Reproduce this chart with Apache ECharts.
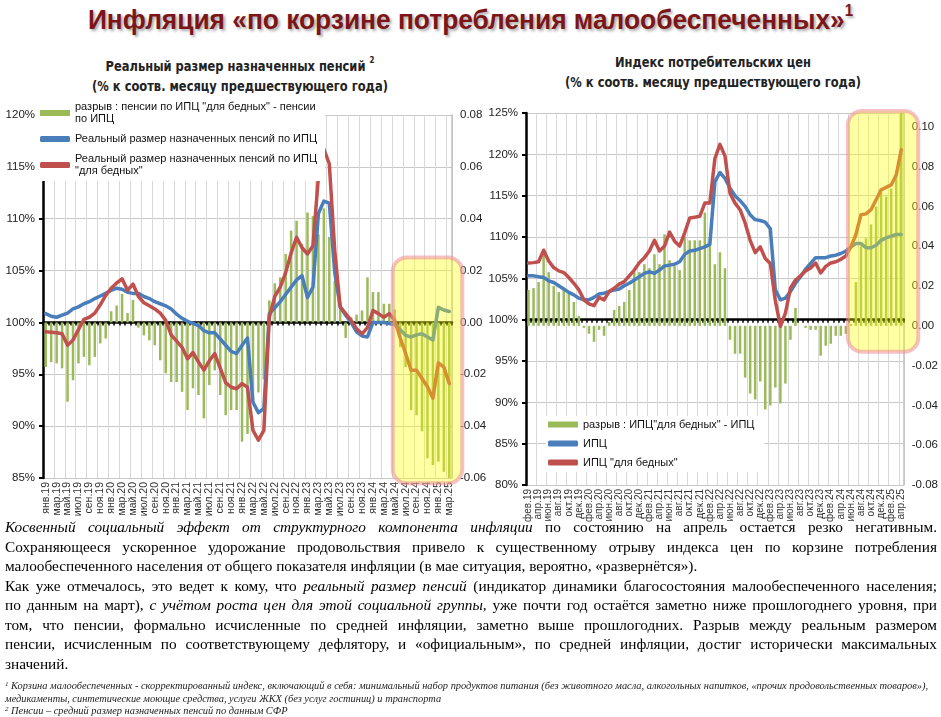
<!DOCTYPE html>
<html>
<head>
<meta charset="utf-8">
<script src="https://cdn.jsdelivr.net/npm/echarts@6/dist/echarts.min.js"></script>
<style>
body {
  margin: 0;
  width: 941px;
  height: 717px;
  background: #fff;
  position: relative;
  overflow: hidden;
  font-family: "Liberation Sans", Arial, sans-serif;
}
.title {
  position: absolute;
  left: 0;
  top: 4px;
  width: 941px;
  text-align: center;
  font-weight: bold;
  font-size: 28px;
  color: #7c1518;
  text-shadow: 2px 2px 3px rgba(0, 0, 0, 0.35);
  transform: scaleX(0.94);
}
.title sup { font-size: 16px; position: relative; top: -3px; }
.sub {
  position: absolute;
  top: 52px;
  width: 480px;
  text-align: center;
  font-family: "Liberation Sans Narrow", "DejaVu Sans Condensed", sans-serif;
  font-weight: bold;
  font-size: 14.5px;
  line-height: 20px;
  color: #222;
  transform: scaleX(0.88);
}
.sub sup { font-size: 9px; position: relative; top: -2px; }
#left { position: absolute; left: 0; top: 95px; width: 500px; height: 430px; }
#right { position: absolute; left: 470px; top: 95px; width: 471px; height: 430px; }
.txt {
  position: absolute;
  left: 5px;
  top: 517px;
  width: 932px;
  font-family: "Liberation Serif", "Times New Roman", serif;
  font-size: 15.3px;
  line-height: 19.5px;
  color: #000;
}
.txt div { text-align: justify; text-align-last: justify; white-space: nowrap; }
.txt div.l { text-align-last: left; }
.fn {
  position: absolute;
  left: 5px;
  top: 680px;
  width: 940px;
  font-family: "Liberation Serif", "Times New Roman", serif;
  font-style: italic;
  font-size: 10.4px;
  line-height: 12.5px;
  color: #222;
  white-space: nowrap;
}
.fn sup { font-size: 7px; line-height: 0; vertical-align: 3px; }
</style>
</head>
<body>
<div class="title">Инфляция «по корзине потребления малообеспеченных»<sup>1</sup></div>
<div class="sub" style="left:0">Реальный размер назначенных пенсий <sup>2</sup><br>(% к соотв. месяцу предшествующего года)</div>
<div class="sub" style="left:473px">Индекс потребительских цен<br>(% к соотв. месяцу предшествующего года)</div>
<div id="left"></div>
<div id="right"></div>
<div class="txt">
  <div><i>Косвенный социальный эффект от структурного компонента инфляции</i> по состоянию на апрель остается резко негативным.</div>
  <div>Сохраняющееся ускоренное удорожание продовольствия привело к существенному отрыву индекса цен по корзине потребления</div>
  <div class="l">малообеспеченного населения от общего показателя инфляции (в мае ситуация, вероятно, «развернётся»).</div>
  <div>Как уже отмечалось, это ведет к кому, что <i>реальный размер пенсий</i> (индикатор динамики благосостояния малообеспеченного населения;</div>
  <div>по данным на март), <i>с учётом роста цен для этой социальной группы,</i> уже почти год остаётся заметно ниже прошлогоднего уровня, при</div>
  <div>том, что пенсии, формально исчисленные по средней инфляции, заметно выше прошлогодних. Разрыв между реальным размером</div>
  <div>пенсии, исчисленным по соответствующему дефлятору, и «официальным», по средней инфляции, достиг исторически максимальных</div>
  <div class="l">значений.</div>
</div>
<div class="fn">
  <div><sup>1</sup> Корзина малообеспеченных - скорректированный индекс, включающий в себя: минимальный набор продуктов питания (без животного масла, алкогольных напитков, «прочих продовольственных товаров»),</div>
  <div>медикаменты, синтетические моющие средства, услуги ЖКХ (без услуг гостиниц) и транспорта</div>
  <div><sup>2</sup> Пенсии – средний размер назначенных пенсий по данным СФР</div>
</div>
<script>
// ---- левый график: пенсии ----
var leftMonths = ("янв.19,фев.19,мар.19,апр.19,май.19,июн.19,июл.19,авг.19,сен.19,окт.19,ноя.19,дек.19," +
  "янв.20,фев.20,мар.20,апр.20,май.20,июн.20,июл.20,авг.20,сен.20,окт.20,ноя.20,дек.20," +
  "янв.21,фев.21,мар.21,апр.21,май.21,июн.21,июл.21,авг.21,сен.21,окт.21,ноя.21,дек.21," +
  "янв.22,фев.22,мар.22,апр.22,май.22,июн.22,июл.22,авг.22,сен.22,окт.22,ноя.22,дек.22," +
  "янв.23,фев.23,мар.23,апр.23,май.23,июн.23,июл.23,авг.23,сен.23,окт.23,ноя.23,дек.23," +
  "янв.24,фев.24,мар.24,апр.24,май.24,июн.24,июл.24,авг.24,сен.24,окт.24,ноя.24,дек.24," +
  "янв.25,фев.25,мар.25").split(",");

// разрыв: пенсии по ИПЦ "для бедных" - пенсии по ИПЦ
var leftGap = [
  -0.0172, -0.0153, -0.0158, -0.0177, -0.0306, -0.0223, -0.0158, -0.0133, -0.0165, -0.0133, -0.0081, -0.0062,
  0.0043, 0.0065, 0.011, 0.0036, 0.0087, -0.002, -0.005, -0.0069, -0.0088, -0.0146, -0.0196, -0.023,
  -0.023, -0.0268, -0.0338, -0.0254, -0.028, -0.037, -0.0242, -0.0185, -0.028, -0.0358, -0.0338, -0.0338,
  -0.046, -0.043, -0.030, -0.027, -0.022, 0.0085, 0.0151, 0.0174, 0.0264, 0.0354, 0.0392, 0.0303,
  0.0424, 0.041, 0.034, 0.044, 0.033, 0.016, 0.006, -0.006, 0.002, 0.003, 0.0046, 0.0174,
  0.0117, 0.0117, 0.0072, 0.0072, 0.005, -0.0095, -0.0172, -0.0338, -0.0358, -0.042, -0.0524, -0.055,
  -0.0537, -0.0576, -0.060
];
// реальный размер назначенных пенсий по ИПЦ, %
var leftPensCpi = [
  100.85, 100.6, 100.5, 100.7, 100.9, 101.3, 101.5, 101.8, 102.0, 102.3, 102.55, 102.8,
  103.1, 103.3, 103.2, 102.9, 102.8, 102.8, 102.5, 102.3, 102.0, 101.8, 101.6, 101.3,
  100.8, 100.4, 100.1, 99.9, 99.7, 99.2, 99.0, 99.0, 98.4, 97.8, 97.2, 97.0,
  97.8, 98.5, 92.3, 91.3, 91.7, 100.85, 101.4, 102.0, 102.7, 103.4, 104.1, 104.5,
  102.4, 103.4, 110.5, 111.7, 111.5, 104.8, 101.5, 100.7, 100.0, 99.1, 98.7, 98.6,
  100.0, 100.0, 100.0, 99.9, 99.8, 99.3, 98.75, 98.6, 98.8, 98.9, 98.6, 98.3,
  101.45, 101.2, 101.05
];
// реальный размер назначенных пенсий по ИПЦ "для бедных", %
var leftPensPoor = [
  99.1, 99.05, 99.0, 98.9, 97.8, 98.3, 99.3, 100.3, 100.5, 100.9, 101.7, 102.6,
  103.3, 103.8, 104.2, 103.1, 103.7, 102.5, 101.9, 101.6, 101.3, 100.9, 100.2, 98.8,
  98.2, 97.6, 96.5, 97.1, 96.2, 95.4, 96.3, 97.0, 95.6, 94.2, 93.75, 93.6,
  94.1, 93.75, 89.6, 88.65, 89.6, 100.5, 102.5, 103.4, 104.8, 106.7, 108.2, 107.2,
  106.6, 107.4, 114.0, 116.7, 115.3, 106.9, 101.5, 100.85, 100.2, 99.4, 98.9, 99.5,
  101.15, 100.85, 100.5, 100.85, 100.2, 98.5, 97.0, 95.4, 95.4, 94.6, 93.8, 92.7,
  96.1, 95.7, 94.1
];

// ---- правый график: ИПЦ ----
var rightMonths = ("фев.19,мар.19,апр.19,май.19,июн.19,июл.19,авг.19,сен.19,окт.19,ноя.19,дек.19," +
  "янв.20,фев.20,мар.20,апр.20,май.20,июн.20,июл.20,авг.20,сен.20,окт.20,ноя.20,дек.20," +
  "янв.21,фев.21,мар.21,апр.21,май.21,июн.21,июл.21,авг.21,сен.21,окт.21,ноя.21,дек.21," +
  "янв.22,фев.22,мар.22,апр.22,май.22,июн.22,июл.22,авг.22,сен.22,окт.22,ноя.22,дек.22," +
  "янв.23,фев.23,мар.23,апр.23,май.23,июн.23,июл.23,авг.23,сен.23,окт.23,ноя.23,дек.23," +
  "янв.24,фев.24,мар.24,апр.24,май.24,июн.24,июл.24,авг.24,сен.24,окт.24,ноя.24,дек.24," +
  "янв.25,фев.25,мар.25,апр.25").split(",");

// разрыв: ИПЦ "для бедных" - ИПЦ
var rightGap = [
  0.018, 0.019, 0.022, 0.036, 0.027, 0.020, 0.017, 0.018, 0.017, 0.012, 0.005,
  -0.001, -0.004, -0.008, -0.002, -0.005, 0.002, 0.008, 0.010, 0.012, 0.018, 0.027, 0.027,
  0.031, 0.029, 0.036, 0.031, 0.046, 0.033, 0.030, 0.028, 0.045, 0.043, 0.043, 0.043,
  0.057, 0.044, 0.031, 0.037, 0.029, -0.007, -0.014, -0.014, -0.026, -0.034, -0.037, -0.028,
  -0.042, -0.040, -0.031, -0.039, -0.029, -0.007, 0.009, 0.000, -0.001, -0.002, -0.002, -0.015,
  -0.010, -0.009, -0.005, -0.005, -0.004, 0.001, 0.022, 0.040, 0.044, 0.051, 0.060, 0.067,
  0.065, 0.069, 0.078, 0.107
];
// ИПЦ, % к соотв. месяцу предыдущего года
var rightCpi = [
  105.3, 105.3, 105.2, 105.1, 104.7, 104.5, 104.1, 103.7, 103.3, 103.0, 102.6,
  102.4, 102.4, 102.7, 103.1, 103.2, 103.4, 103.6, 103.7, 104.1, 104.4, 104.8, 105.2,
  105.6, 105.8, 105.6, 106.0, 106.5, 106.6, 106.7, 107.0, 107.9, 108.3, 108.4, 108.6,
  108.8, 109.1, 116.7, 117.8, 117.1, 115.9, 115.0, 114.4, 113.7, 112.7, 112.1, 112.0,
  111.8, 111.0, 103.6, 102.4, 102.6, 103.4, 104.4, 105.2, 106.1, 106.8, 107.5, 107.5,
  107.5, 107.7, 107.8, 108.0, 108.3, 108.8, 109.2, 109.2, 108.7, 108.7, 109.0, 109.6,
  109.9, 110.1, 110.3, 110.3
];
// ИПЦ "для бедных", %
var rightCpiPoor = [
  106.85, 106.9, 107.0, 108.4, 107.1, 106.3, 105.9, 105.7, 105.1, 104.4, 103.6,
  102.4, 101.9, 101.7, 102.7, 102.4, 103.4, 103.8, 104.3, 104.6, 105.3, 106.0, 106.9,
  107.5, 108.3, 109.6, 108.3, 108.9, 110.6, 109.5, 108.9, 110.5, 112.3, 112.4, 112.5,
  114.1, 114.1, 119.5, 121.2, 119.8, 115.3, 114.1, 113.3, 111.7, 109.6, 108.1, 108.8,
  107.4, 106.8, 102.3, 99.2, 100.8, 103.8, 104.8, 105.3, 105.9, 106.25, 106.85, 105.65,
  106.45, 106.85, 107.0, 107.3, 107.7, 108.8, 110.3, 112.7, 112.8, 113.3, 114.5, 115.7,
  116.0, 116.3, 117.5, 120.55
];

var GREEN = "#9bbb59";
var BLUE = "#4a7ebb";
var RED = "#c0504d";
var FONT = "Liberation Sans, Arial, sans-serif";

function xAxes(months, zeroAxis, labelSize) {
  return [
    {
      type: "category",
      data: months,
      axisLine: { show: false, onZero: false },
      axisTick: { show: false },
      axisLabel: {
        interval: 1, rotate: 90, fontSize: labelSize, color: "#333", margin: 4,
        showMinLabel: true, showMaxLabel: true, hideOverlap: false
      },
      splitLine: { show: true, interval: 1, lineStyle: { color: "#d9d9d9", width: 1 } }
    },
    {
      // чёрная линия на уровне 100% с рисками
      type: "category",
      data: months,
      position: "bottom",
      axisLine: { show: true, onZero: true, onZeroAxisIndex: zeroAxis, lineStyle: { color: "#000", width: 2.5 } },
      axisTick: { show: true, interval: 0, length: 3, lineStyle: { color: "#000", width: 1.5 } },
      axisLabel: { show: false },
      splitLine: { show: false }
    }
  ];
}

function pctAxis(min, max) {
  return {
    type: "value",
    min: min,
    max: max,
    interval: 5,
    position: "left",
    axisLine: { show: true, lineStyle: { color: "#000", width: 2.5 } },
    axisTick: { show: true, length: 4, lineStyle: { color: "#000", width: 2 } },
    axisLabel: { formatter: "{value}%", fontSize: 11.5, color: "#222", margin: 8 },
    splitLine: { show: true, lineStyle: { color: "#c8c8c8" } }
  };
}

function gapAxis(min, max) {
  return {
    type: "value",
    min: min,
    max: max,
    interval: 0.02,
    position: "right",
    axisLine: { show: true, lineStyle: { color: "#bfbfbf", width: 1.5 } },
    axisTick: { show: false },
    axisLabel: {
      showMaxLabel: Math.abs(max / 0.02 - Math.round(max / 0.02)) < 1e-6,
      formatter: function (v) { return v.toFixed(2); },
      fontSize: 11.5,
      color: "#222",
      margin: 8
    },
    splitLine: { show: false }
  };
}

function lineSeries(name, data, color) {
  return {
    name: name,
    type: "line",
    yAxisIndex: 0,
    data: data,
    symbol: "none",
    lineStyle: { color: color, width: 3.5, join: "round", cap: "round" },
    itemStyle: { color: color },
    z: 3
  };
}

function highlight(chart, months, fromIdx, topVal, bottomVal, padLeft, padRight) {
  var x0 = chart.convertToPixel({ xAxisIndex: 0 }, months[fromIdx]) - padLeft;
  var x1 = chart.convertToPixel({ xAxisIndex: 0 }, months[months.length - 1]) + padRight;
  var y0 = chart.convertToPixel({ yAxisIndex: 1 }, topVal);
  var y1 = chart.convertToPixel({ yAxisIndex: 1 }, bottomVal);
  chart.setOption({
    graphic: [{
      type: "rect",
      z: 100,
      shape: { x: x0, y: y0, width: x1 - x0, height: y1 - y0, r: 14 },
      style: { fill: "rgba(255,255,0,0.36)", stroke: "rgba(236,140,152,0.55)", lineWidth: 4 }
    }]
  });
}

// ---------- левый ----------
var leftChart = echarts.init(document.getElementById("left"));
var leftNames = {
  gap: "разрыв : пенсии по ИПЦ \"для бедных\" - пенсии\nпо ИПЦ",
  cpi: "Реальный размер назначенных пенсий по ИПЦ",
  poor: "Реальный размер назначенных пенсий по ИПЦ\n\"для бедных\""
};
leftChart.setOption({
  animation: false,
  textStyle: { fontFamily: FONT },
  grid: { left: 43, right: 48, top: 20, bottom: 47 },
  legend: {
    orient: "vertical",
    left: 38,
    top: 4,
    itemWidth: 30,
    itemHeight: 6,
    itemGap: 8,
    backgroundColor: "#fff",
    padding: [2, 8, 4, 2],
    textStyle: { fontSize: 11, color: "#111", lineHeight: 12 },
    formatter: function (n) { return leftNames[n]; },
    data: [
      { name: "gap", icon: "rect" },
      { name: "cpi", icon: "roundRect" },
      { name: "poor", icon: "roundRect" }
    ]
  },
  xAxis: xAxes(leftMonths, 1, 10.5),
  yAxis: [pctAxis(85, 120), gapAxis(-0.06, 0.08)],
  series: [
    { name: "gap", type: "bar", yAxisIndex: 1, data: leftGap, barWidth: 2.5, itemStyle: { color: GREEN }, z: 2 },
    lineSeries("cpi", leftPensCpi, BLUE),
    lineSeries("poor", leftPensPoor, RED)
  ]
});
highlight(leftChart, leftMonths, 64, 0.025, -0.062, 2, 13);

// ---------- правый ----------
var rightChart = echarts.init(document.getElementById("right"));
var rightNames = {
  gap: "разрыв : ИПЦ\"для бедных\" - ИПЦ",
  cpi: "ИПЦ",
  poor: "ИПЦ \"для бедных\""
};
var rightY = [pctAxis(80, 125), gapAxis(-0.08, 0.107)];
// скрытая ось: 0 = 100% левой шкалы, к ней крепится чёрная линия
rightY.push({ type: "value", min: -20, max: 25, show: false, position: "left" });
rightChart.setOption({
  animation: false,
  textStyle: { fontFamily: FONT },
  grid: { left: 56, right: 34, top: 18, bottom: 40 },
  legend: {
    orient: "vertical",
    left: 76,
    top: 321,
    itemWidth: 30,
    itemHeight: 6,
    itemGap: 8,
    backgroundColor: "#fff",
    padding: [3, 10, 4, 2],
    textStyle: { fontSize: 11, color: "#111" },
    formatter: function (n) { return rightNames[n]; },
    data: [
      { name: "gap", icon: "rect" },
      { name: "cpi", icon: "roundRect" },
      { name: "poor", icon: "roundRect" }
    ]
  },
  xAxis: xAxes(rightMonths, 2, 10),
  yAxis: rightY,
  series: [
    { name: "gap", type: "bar", yAxisIndex: 1, data: rightGap, barWidth: 2.5, itemStyle: { color: GREEN }, z: 2 },
    lineSeries("cpi", rightCpi, BLUE),
    lineSeries("poor", rightCpiPoor, RED)
  ]
});
highlight(rightChart, rightMonths, 64, 0.108, -0.013, 3, 17);
</script>
</body>
</html>
